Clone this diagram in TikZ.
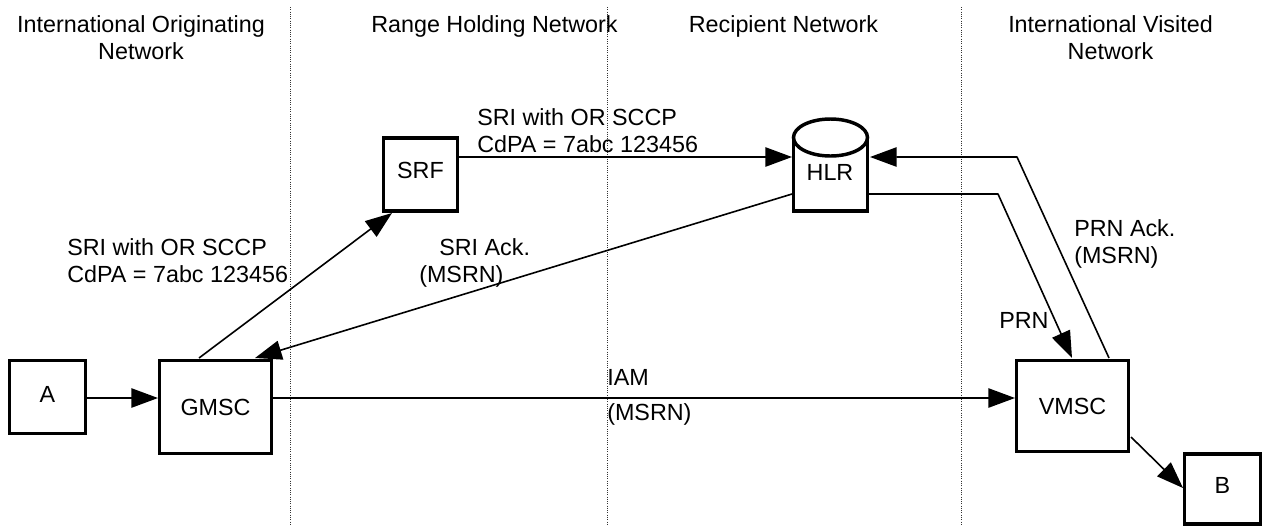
\documentclass[tikz,border=0pt]{standalone}
\usepackage{fontspec}
\setmainfont{Liberation Sans}
\usetikzlibrary{arrows.meta}
\tikzset{
  x=0.75pt,y=-0.75pt,
  box/.style={draw,line width=2.4pt,inner sep=0pt,font=\fontsize{17.5pt}{20.25pt}\selectfont},
  flow/.style={line width=1.2pt,-{Triangle[length=20pt,width=14.5pt]}},
  sep/.style={densely dotted,line width=0.7pt,black!80},
  lab/.style={inner sep=0pt,font=\fontsize{17.5pt}{20.25pt}\selectfont,align=left,anchor=base west},
  hd/.style={inner sep=0pt,font=\fontsize{17.5pt}{20.25pt}\selectfont,align=center,anchor=base},
}
\begin{document}
\begin{tikzpicture}
\useasboundingbox[fill=white] (0,0) rectangle (1266,526);
\coordinate (s1a) at (290,7); \coordinate (s1b) at (290,526);
\coordinate (s2a) at (607,7); \coordinate (s2b) at (607,526);
\coordinate (s3a) at (961,7); \coordinate (s3b) at (961,526);
\draw[sep] (s1a) -- (s1b);
\draw[sep] (s2a) -- (s2b);
\draw[sep] (s3a) -- (s3b);
\node[hd] (h1) at (141,59) {International Originating\\Network};
\node[hd] (h2) at (494.5,32) {Range Holding Network};
\node[hd] (h3) at (783.5,32) {Recipient Network};
\node[hd] (h4) at (1110.5,59) {International Visited\\Network};

\node[box,minimum width=57pt,minimum height=54.75pt,text depth=4.5pt] (A) at (47.5,397) {A};
\node[box,minimum width=84pt,minimum height=69.75pt] (G) at (215.5,407) {GMSC};
\node[box,minimum width=84pt,minimum height=68.25pt] (V) at (1072.5,406) {VMSC};
\node[box,minimum width=57pt,minimum height=52.5pt,text depth=6pt] (B) at (1222.5,489) {B};
\node[box,minimum width=55.5pt,minimum height=54.75pt,text depth=6.5pt] (S) at (420.5,174.5) {SRF};

% HLR cylinder
\draw[line width=2.6pt] (793.5,137.5) -- (793.5,211) -- (867.5,211) -- (867.5,137.5);
\draw[line width=2.6pt] (830.5,137.5) ellipse [x radius=37,y radius=18.5];
\node[inner sep=0pt,font=\fontsize{17.5pt}{20.25pt}\selectfont,anchor=base] (H) at (830,180) {HLR};

\coordinate (hrin) at (870,157);
\coordinate (hrout) at (869,194);
\coordinate (hlin) at (792,157);
\coordinate (hlout) at (792,194);
\coordinate (c1) at (1017,157);
\coordinate (c2) at (998,194);
\coordinate (gs) at (199,358);
\coordinate (gr) at (255,358);
\coordinate (sin) at (392,213);
\coordinate (sr) at (459,157);
\coordinate (vin1) at (1072,358);
\coordinate (vout1) at (1109,358);
\coordinate (vr) at (1131,437);
\coordinate (bl) at (1183,488);
\coordinate (ar) at (87,398);
\coordinate (gi) at (158,398);
\coordinate (go) at (273,398);
\coordinate (vi) at (1015,398);

\draw[flow] (ar) -- (gi);
\draw[flow] (go) -- (vi);
\draw[flow] (gs) -- (sin);
\draw[flow] (sr) -- (hlin);
\draw[flow] (hlout) -- (gr);
\draw[flow,line join=round] (hrout) -- (c2) -- (vin1);
\draw[flow,line join=round] (vout1) -- (c1) -- (hrin);
\draw[flow] (vr) -- (bl);

\node[lab] (l1) at (477,152) {SRI with OR SCCP\\CdPA = 7abc 123456};
\node[lab] (l2) at (67,282) {SRI with OR SCCP\\CdPA = 7abc 123456};
\node[lab] (l3) at (439,255) {SRI Ack.};
\node[lab] (l4) at (419,282) {(MSRN)};
\node[lab] (l5) at (1074,263) {PRN Ack.\\(MSRN)};
\node[lab] (l6) at (999,328) {PRN};
\node[lab] (l7) at (607,385) {IAM};
\node[lab] (l8) at (607,420) {(MSRN)};
\end{tikzpicture}
\end{document}
